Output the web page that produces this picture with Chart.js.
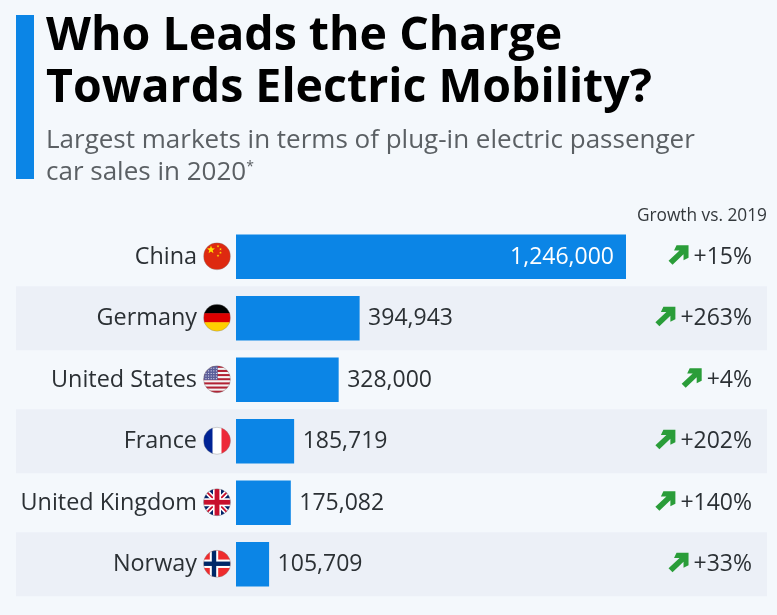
<!DOCTYPE html>
<html>
<head>
<meta charset="utf-8">
<script src="https://cdn.jsdelivr.net/npm/chart.js@4"></script>
<style>
  html, body { margin: 0; padding: 0; background: #f4f8fc; }
  body { width: 777px; height: 615px; position: relative; overflow: hidden; font-family: "Open Sans", sans-serif; }
  #chart { position: absolute; left: 0; top: 0; }
  .accent { position: absolute; left: 16px; top: 15px; width: 18px; height: 164px; background: #0b85e6; }
  h1 { position: absolute; left: 46px; top: 6px; margin: 0; font-size: 46.5px; line-height: 52px; font-weight: 700; color: #000; white-space: nowrap; }
  h2 { position: absolute; left: 46px; top: 122px; margin: 0; font-size: 26px; line-height: 32px; font-weight: 400; color: #5b6064; white-space: nowrap; }
  h2 sup { font-size: 14px; line-height: 0; vertical-align: 9px; }
  .growth-head { position: absolute; right: 10px; top: 204px; font-size: 17.3px; line-height: 22px; color: #33383c; white-space: nowrap; }
</style>
</head>
<body>
<canvas id="chart" width="777" height="615"></canvas>
<div class="accent"></div>
<h1>Who Leads the Charge<br>Towards Electric Mobility?</h1>
<h2>Largest markets in terms of plug-in electric passenger<br>car sales in 2020<sup>*</sup></h2>
<div class="growth-head">Growth vs. 2019</div>
<script>
const countries = ["China", "Germany", "United States", "France", "United Kingdom", "Norway"];
const sales = [1246000, 394943, 328000, 185719, 175082, 105709];
const growth = ["+15%", "+263%", "+4%", "+202%", "+140%", "+33%"];
const flags = ["cn", "de", "us", "fr", "uk", "no"];

const BLUE = "#0b85e6";
const TEXT = "#2b3034";
const FONT = '"Open Sans", sans-serif';

// flag painters, each one fills a 2r box centred on 0,0 (already clipped to a circle)
function stripesH(ctx, r, cols) {
  const h = 2 * r / cols.length;
  cols.forEach((c, i) => { ctx.fillStyle = c; ctx.fillRect(-r, -r + i * h, 2 * r, h + 0.5); });
}
function stripesV(ctx, r, cols) {
  const w = 2 * r / cols.length;
  cols.forEach((c, i) => { ctx.fillStyle = c; ctx.fillRect(-r + i * w, -r, w + 0.5, 2 * r); });
}
function star(ctx, x, y, size) {
  ctx.beginPath();
  for (let i = 0; i < 10; i++) {
    const a = -Math.PI / 2 + i * Math.PI / 5;
    const d = i % 2 ? size * 0.42 : size;
    ctx.lineTo(x + Math.cos(a) * d, y + Math.sin(a) * d);
  }
  ctx.closePath();
  ctx.fill();
}
const flagPainters = {
  cn(ctx, r) {
    ctx.fillStyle = "#de2910"; ctx.fillRect(-r, -r, 2 * r, 2 * r);
    ctx.fillStyle = "#ffde00";
    star(ctx, -6, -6.5, 4.2);
    star(ctx, 1, -10, 1.4); star(ctx, 3.5, -7, 1.4); star(ctx, 3.5, -3.5, 1.4); star(ctx, 1, -0.5, 1.4);
  },
  de(ctx, r) { stripesH(ctx, r, ["#000", "#dd0000", "#ffce00"]); },
  fr(ctx, r) { stripesV(ctx, r, ["#002395", "#fff", "#ed2939"]); },
  us(ctx, r) {
    const cols = [];
    for (let i = 0; i < 13; i++) cols.push(i % 2 ? "#f4f4f4" : "#b22234");
    stripesH(ctx, r, cols);
    ctx.fillStyle = "#5b5e9a"; ctx.fillRect(-r, -r, r * 1.05, r * 1.05);
    ctx.fillStyle = "#e4e4f0";
    for (let y = -r + 2; y < 0; y += 2.6) for (let x = -r + 2; x < 0.5; x += 2.6) ctx.fillRect(x, y, 1, 1);
  },
  uk(ctx, r) {
    ctx.fillStyle = "#012169"; ctx.fillRect(-r, -r, 2 * r, 2 * r);
    ctx.strokeStyle = "#fff"; ctx.lineWidth = 5;
    ctx.beginPath(); ctx.moveTo(-r, -r); ctx.lineTo(r, r); ctx.moveTo(r, -r); ctx.lineTo(-r, r); ctx.stroke();
    ctx.strokeStyle = "#c8102e"; ctx.lineWidth = 1.8;
    ctx.beginPath(); ctx.moveTo(-r, -r); ctx.lineTo(r, r); ctx.moveTo(r, -r); ctx.lineTo(-r, r); ctx.stroke();
    ctx.fillStyle = "#fff"; ctx.fillRect(-r, -4, 2 * r, 8); ctx.fillRect(-4, -r, 8, 2 * r);
    ctx.fillStyle = "#c8102e"; ctx.fillRect(-r, -2.4, 2 * r, 4.8); ctx.fillRect(-2.4, -r, 4.8, 2 * r);
  },
  no(ctx, r) {
    ctx.fillStyle = "#ef2b2d"; ctx.fillRect(-r, -r, 2 * r, 2 * r);
    ctx.fillStyle = "#fff"; ctx.fillRect(-r, -4.2, 2 * r, 8.4); ctx.fillRect(-7.2, -r, 8.4, 2 * r);
    ctx.fillStyle = "#002868"; ctx.fillRect(-r, -2.2, 2 * r, 4.4); ctx.fillRect(-5.2, -r, 4.4, 2 * r);
  }
};

const rowDecor = {
  id: "rowDecor",
  // bands go down first, the axis labels have to stay on top of them
  beforeDraw(chart) {
    const { ctx, scales: { y } } = chart;
    ctx.save();
    ctx.fillStyle = "#ecf0f7";
    countries.forEach((c, i) => {
      if (i % 2) ctx.fillRect(16, y.getPixelForValue(i) - 32, 751, 64);
    });
    ctx.restore();
  },
  afterDatasetsDraw(chart) {
    const { ctx, scales: { x, y } } = chart;
    ctx.save();
    countries.forEach((c, i) => {
      const cy = y.getPixelForValue(i);
      // flag
      ctx.save();
      ctx.translate(217, cy - 0.5);
      ctx.beginPath(); ctx.arc(0, 0, 13.5, 0, Math.PI * 2); ctx.clip();
      flagPainters[flags[i]](ctx, 13.5);
      ctx.restore();
      ctx.beginPath(); ctx.arc(217, cy - 0.5, 13.5, 0, Math.PI * 2);
      ctx.strokeStyle = "rgba(130,130,130,0.45)"; ctx.lineWidth = 0.8; ctx.stroke();

      // value label, inside the long bar and outside the rest
      const end = x.getPixelForValue(sales[i]);
      const inside = i === 0;
      ctx.font = "23px " + FONT;
      ctx.textBaseline = "middle";
      ctx.textAlign = inside ? "right" : "left";
      ctx.fillStyle = inside ? "#fff" : TEXT;
      ctx.fillText(sales[i].toLocaleString("en-US"), inside ? end - 12 : end + 8.5, cy + 0.5);

      // growth label with arrow
      ctx.textAlign = "right";
      ctx.fillStyle = TEXT;
      ctx.fillText(growth[i], 752, cy + 0.5);
      const ax = 752 - ctx.measureText(growth[i]).width - 5;
      drawArrow(ctx, ax, cy - 2);
    });
    ctx.restore();
  }
};

// arrow pointing up and right, ending at ax on its right side
function drawArrow(ctx, ax, cy) {
  ctx.save();
  ctx.translate(ax - 10, cy);
  ctx.fillStyle = "#2a9d39";
  ctx.beginPath();
  ctx.moveTo(-10, 6);
  ctx.lineTo(1, -4.2);
  ctx.lineTo(-4.5, -4.2);
  ctx.lineTo(-2, -9.5);
  ctx.lineTo(10, -9.5);
  ctx.lineTo(10, 3);
  ctx.lineTo(5, 5.5);
  ctx.lineTo(5, -0.5);
  ctx.lineTo(-6, 10);
  ctx.closePath();
  ctx.fill();
  ctx.restore();
}

new Chart(document.getElementById("chart"), {
  type: "bar",
  data: {
    labels: countries,
    datasets: [{
      data: sales,
      backgroundColor: BLUE,
      borderWidth: 0,
      categoryPercentage: 1,
      barPercentage: 0.724
    }]
  },
  options: {
    indexAxis: "y",
    responsive: false,
    animation: false,
    layout: { padding: { top: 226, bottom: 20, left: 0, right: 151 } },
    plugins: { legend: { display: false }, tooltip: { enabled: false }, title: { display: false } },
    scales: {
      x: { display: false, min: 0, max: 1246000 },
      y: {
        grid: { display: false, drawTicks: false },
        border: { display: false },
        afterFit(scale) { scale.width = 236; scale.paddingTop = 0; scale.paddingBottom = 0; },
        ticks: {
          autoSkip: false,
          padding: 39,
          labelOffset: 0.5,
          color: TEXT,
          font: { family: FONT, size: 23.4 }
        }
      }
    }
  },
  plugins: [rowDecor]
});
</script>
</body>
</html>
